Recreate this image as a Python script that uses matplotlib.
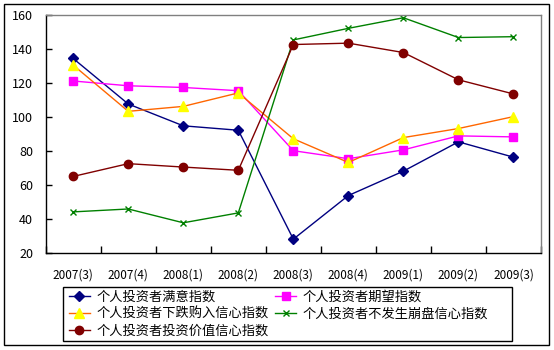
import matplotlib.pyplot as plt
from matplotlib.patches import Rectangle

plt.rcParams['font.family'] = ['Noto Sans CJK SC', 'DejaVu Sans']

# 季度
quarters = ['2007(3)', '2007(4)', '2008(1)', '2008(2)', '2008(3)',
            '2008(4)', '2009(1)', '2009(2)', '2009(3)']

# 各指数
satisfaction = [134.3, 107.6, 94.8, 92.2, 28.3, 53.9, 68.2, 85.4, 76.4]
expectation = [121.1, 118.3, 117.3, 115.4, 80.2, 75.5, 80.7, 88.9, 88.3]
buy_on_dip = [130.4, 103.3, 106.2, 114.1, 87.2, 73.3, 87.9, 93.2, 100.2]
no_crash = [44.3, 46.0, 37.9, 43.7, 145.2, 152.0, 158.2, 146.6, 147.1]
invest_value = [65.1, 72.6, 70.6, 68.7, 142.5, 143.3, 137.8, 121.8, 113.5]

fig = plt.figure(figsize=(5.54, 3.5), dpi=100)
ax = fig.add_axes([0.0825, 0.2763, 0.894, 0.6817])

x = list(range(len(quarters)))
l1, = ax.plot(x, satisfaction, color='#000080', lw=1, marker='D', ms=5.5,
              mfc='#000080', mec='#000080', label='个人投资者满意指数')
l2, = ax.plot(x, expectation, color='#FF00FF', lw=1, marker='s', ms=6,
              mfc='#FF00FF', mec='#FF00FF', label='个人投资者期望指数')
l3, = ax.plot(x, buy_on_dip, color='#FF6600', lw=1, marker='^', ms=7,
              mfc='#FFFF00', mec='#FFFF00', label='个人投资者下跌购入信心指数')
l4, = ax.plot(x, no_crash, color='#008000', lw=1, marker='x', ms=5,
              mew=1, label='个人投资者不发生崩盘信心指数')
l5, = ax.plot(x, invest_value, color='#800000', lw=1, marker='o', ms=6,
              mfc='#800000', mec='#800000', label='个人投资者投资价值信心指数')

ax.set_xlim(-0.5, len(quarters) - 0.5)
ax.set_ylim(20, 160)
ax.set_yticks(range(20, 161, 20))
ax.set_xticks([i - 0.5 for i in range(len(quarters) + 1)], minor=False)
ax.set_xticklabels([])
ax.set_xticks(x, minor=True)
ax.set_xticklabels(quarters, minor=True)
ax.tick_params(axis='x', which='major', direction='in', length=5, width=1)
ax.tick_params(axis='x', which='minor', length=0, pad=11, labelsize=8.5)
ax.tick_params(axis='y', direction='in', length=4, width=1, labelsize=9, pad=9)

ax.spines['top'].set_color('#808080')
ax.spines['right'].set_color('#808080')
for s in ax.spines.values():
    s.set_linewidth(1)

handles = [l1, l3, l5, l2, l4]
fig.legend(handles=handles, labels=[h.get_label() for h in handles],
           loc='upper left', bbox_to_anchor=(66 / 554, 1 - 288 / 350),
           ncol=2, fontsize=9.5, frameon=False,
           handlelength=1.6, handletextpad=0.5,
           borderpad=0.2, labelspacing=0.3, columnspacing=0.5,
           borderaxespad=0)

# 图例框
fig.patches.append(Rectangle((63 / 554, 1 - 341 / 350), 449 / 554, 54 / 350,
                             transform=fig.transFigure, fill=False,
                             edgecolor='black', lw=1))

# 外框
fig.patches.append(Rectangle((4 / 554, 5 / 350), 545 / 554, 341 / 350,
                             transform=fig.transFigure, fill=False,
                             edgecolor='black', lw=1))

plt.savefig('out.png', dpi=100)
